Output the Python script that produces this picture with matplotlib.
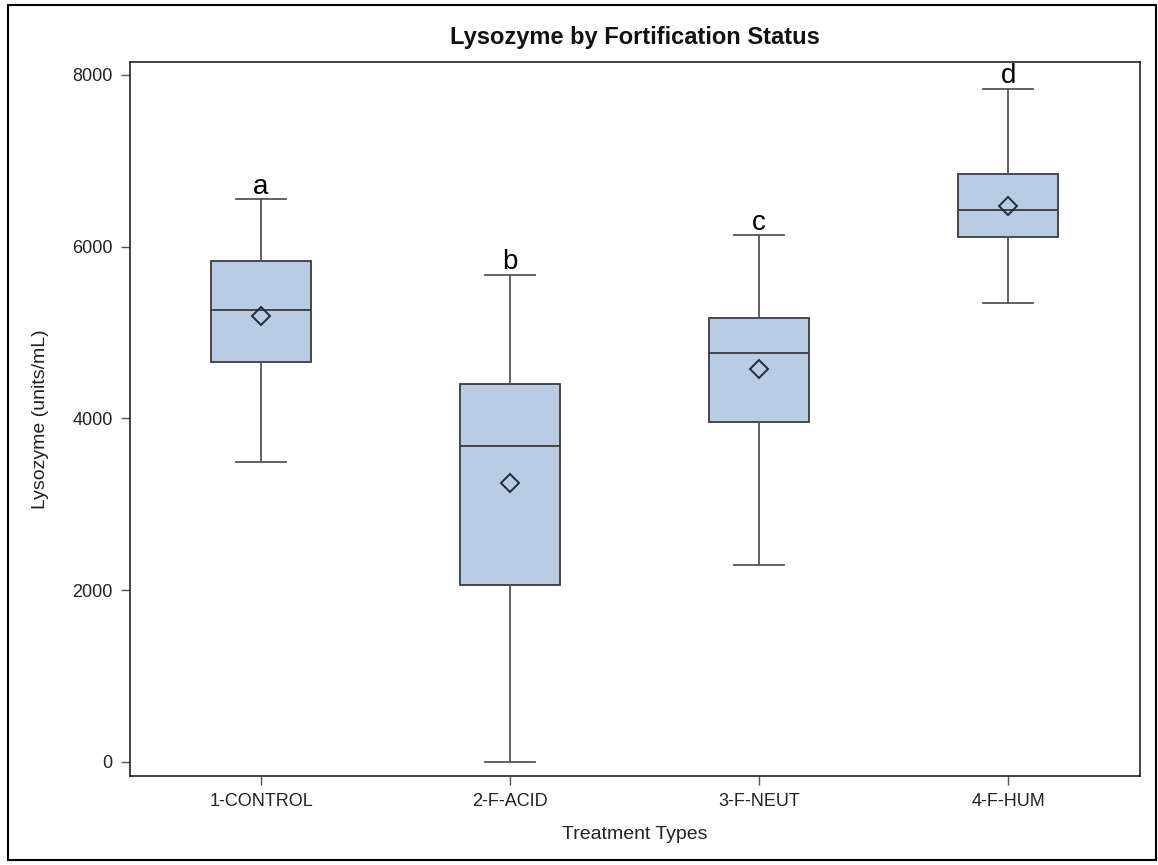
import matplotlib
matplotlib.use("Agg")
import matplotlib.pyplot as plt
from matplotlib.patches import Rectangle

plt.rcParams["font.family"] = ["Liberation Sans", "DejaVu Sans"]

# ---- Data ----
treatments = ["1-CONTROL", "2-F-ACID", "3-F-NEUT", "4-F-HUM"]
whisker_low = [3490, 0, 2291, 5345]
q1 = [4658, 2065, 3956, 6117]
median = [5267, 3680, 4759, 6428]
q3 = [5831, 4398, 5170, 6844]
whisker_high = [6553, 5671, 6133, 7841]
means = [5197, 3253, 4573, 6478]
letters = ["a", "b", "c", "d"]
yticks = [0, 2000, 4000, 6000, 8000]

BOX_FILL = "#B8CCE4"
EDGE = "#3A3A3A"
WHISK = "#555555"

stats = []
for i, name in enumerate(treatments):
    stats.append(dict(label=name, whislo=whisker_low[i], q1=q1[i], med=median[i],
                      q3=q3[i], whishi=whisker_high[i], mean=means[i], fliers=[]))

fig = plt.figure(figsize=(11.58, 8.65), dpi=100)
ax = fig.add_axes([0.1123, 0.1029, 0.8722, 0.826])

positions = list(range(1, len(treatments) + 1))
ax.bxp(stats, positions=positions, widths=0.40, patch_artist=True, showmeans=True,
       showfliers=False,
       boxprops=dict(facecolor=BOX_FILL, edgecolor=EDGE, linewidth=1.3),
       medianprops=dict(color=EDGE, linewidth=1.3),
       whiskerprops=dict(color=WHISK, linewidth=1.3),
       capprops=dict(color=WHISK, linewidth=1.3),
       capwidths=0.2,
       meanprops=dict(marker="D", markersize=9, markerfacecolor="none",
                      markeredgecolor="#1F2A40", markeredgewidth=1.4))

# significance letters above the upper whiskers
for i, let in enumerate(letters):
    ax.annotate(let, (positions[i], whisker_high[i]), xytext=(0, 4),
                textcoords="offset points", ha="center", va="baseline",
                fontsize=20, color="black", clip_on=False)

ax.set_xlim(0.474, 4.53)
ax.set_ylim(-163, 8157)
ax.set_xticks(positions)
ax.set_xticklabels(treatments)
ax.set_yticks(yticks)
ax.tick_params(axis="both", direction="out", length=6.5, width=1, color="#555555",
               labelsize=13, labelcolor="#222222", pad=6)

for sp in ax.spines.values():
    sp.set_color("#222222")
    sp.set_linewidth(1.2)

ax.set_xlabel("Treatment Types", fontsize=14, color="#222222", labelpad=11)
ax.set_ylabel("Lysozyme (units/mL)", fontsize=14, color="#222222", labelpad=17)
fig.text(0.548, 0.957, "Lysozyme by Fortification Status", ha="center", va="center",
         fontsize=17, fontweight="bold", color="#111111")

# outer frame around the whole graphic
fig.patches.append(Rectangle((8 / 1158, 5 / 865), 1148 / 1158, 855 / 865,
                             transform=fig.transFigure, fill=False,
                             edgecolor="black", linewidth=1.5))

fig.savefig("out.png", dpi=100)
